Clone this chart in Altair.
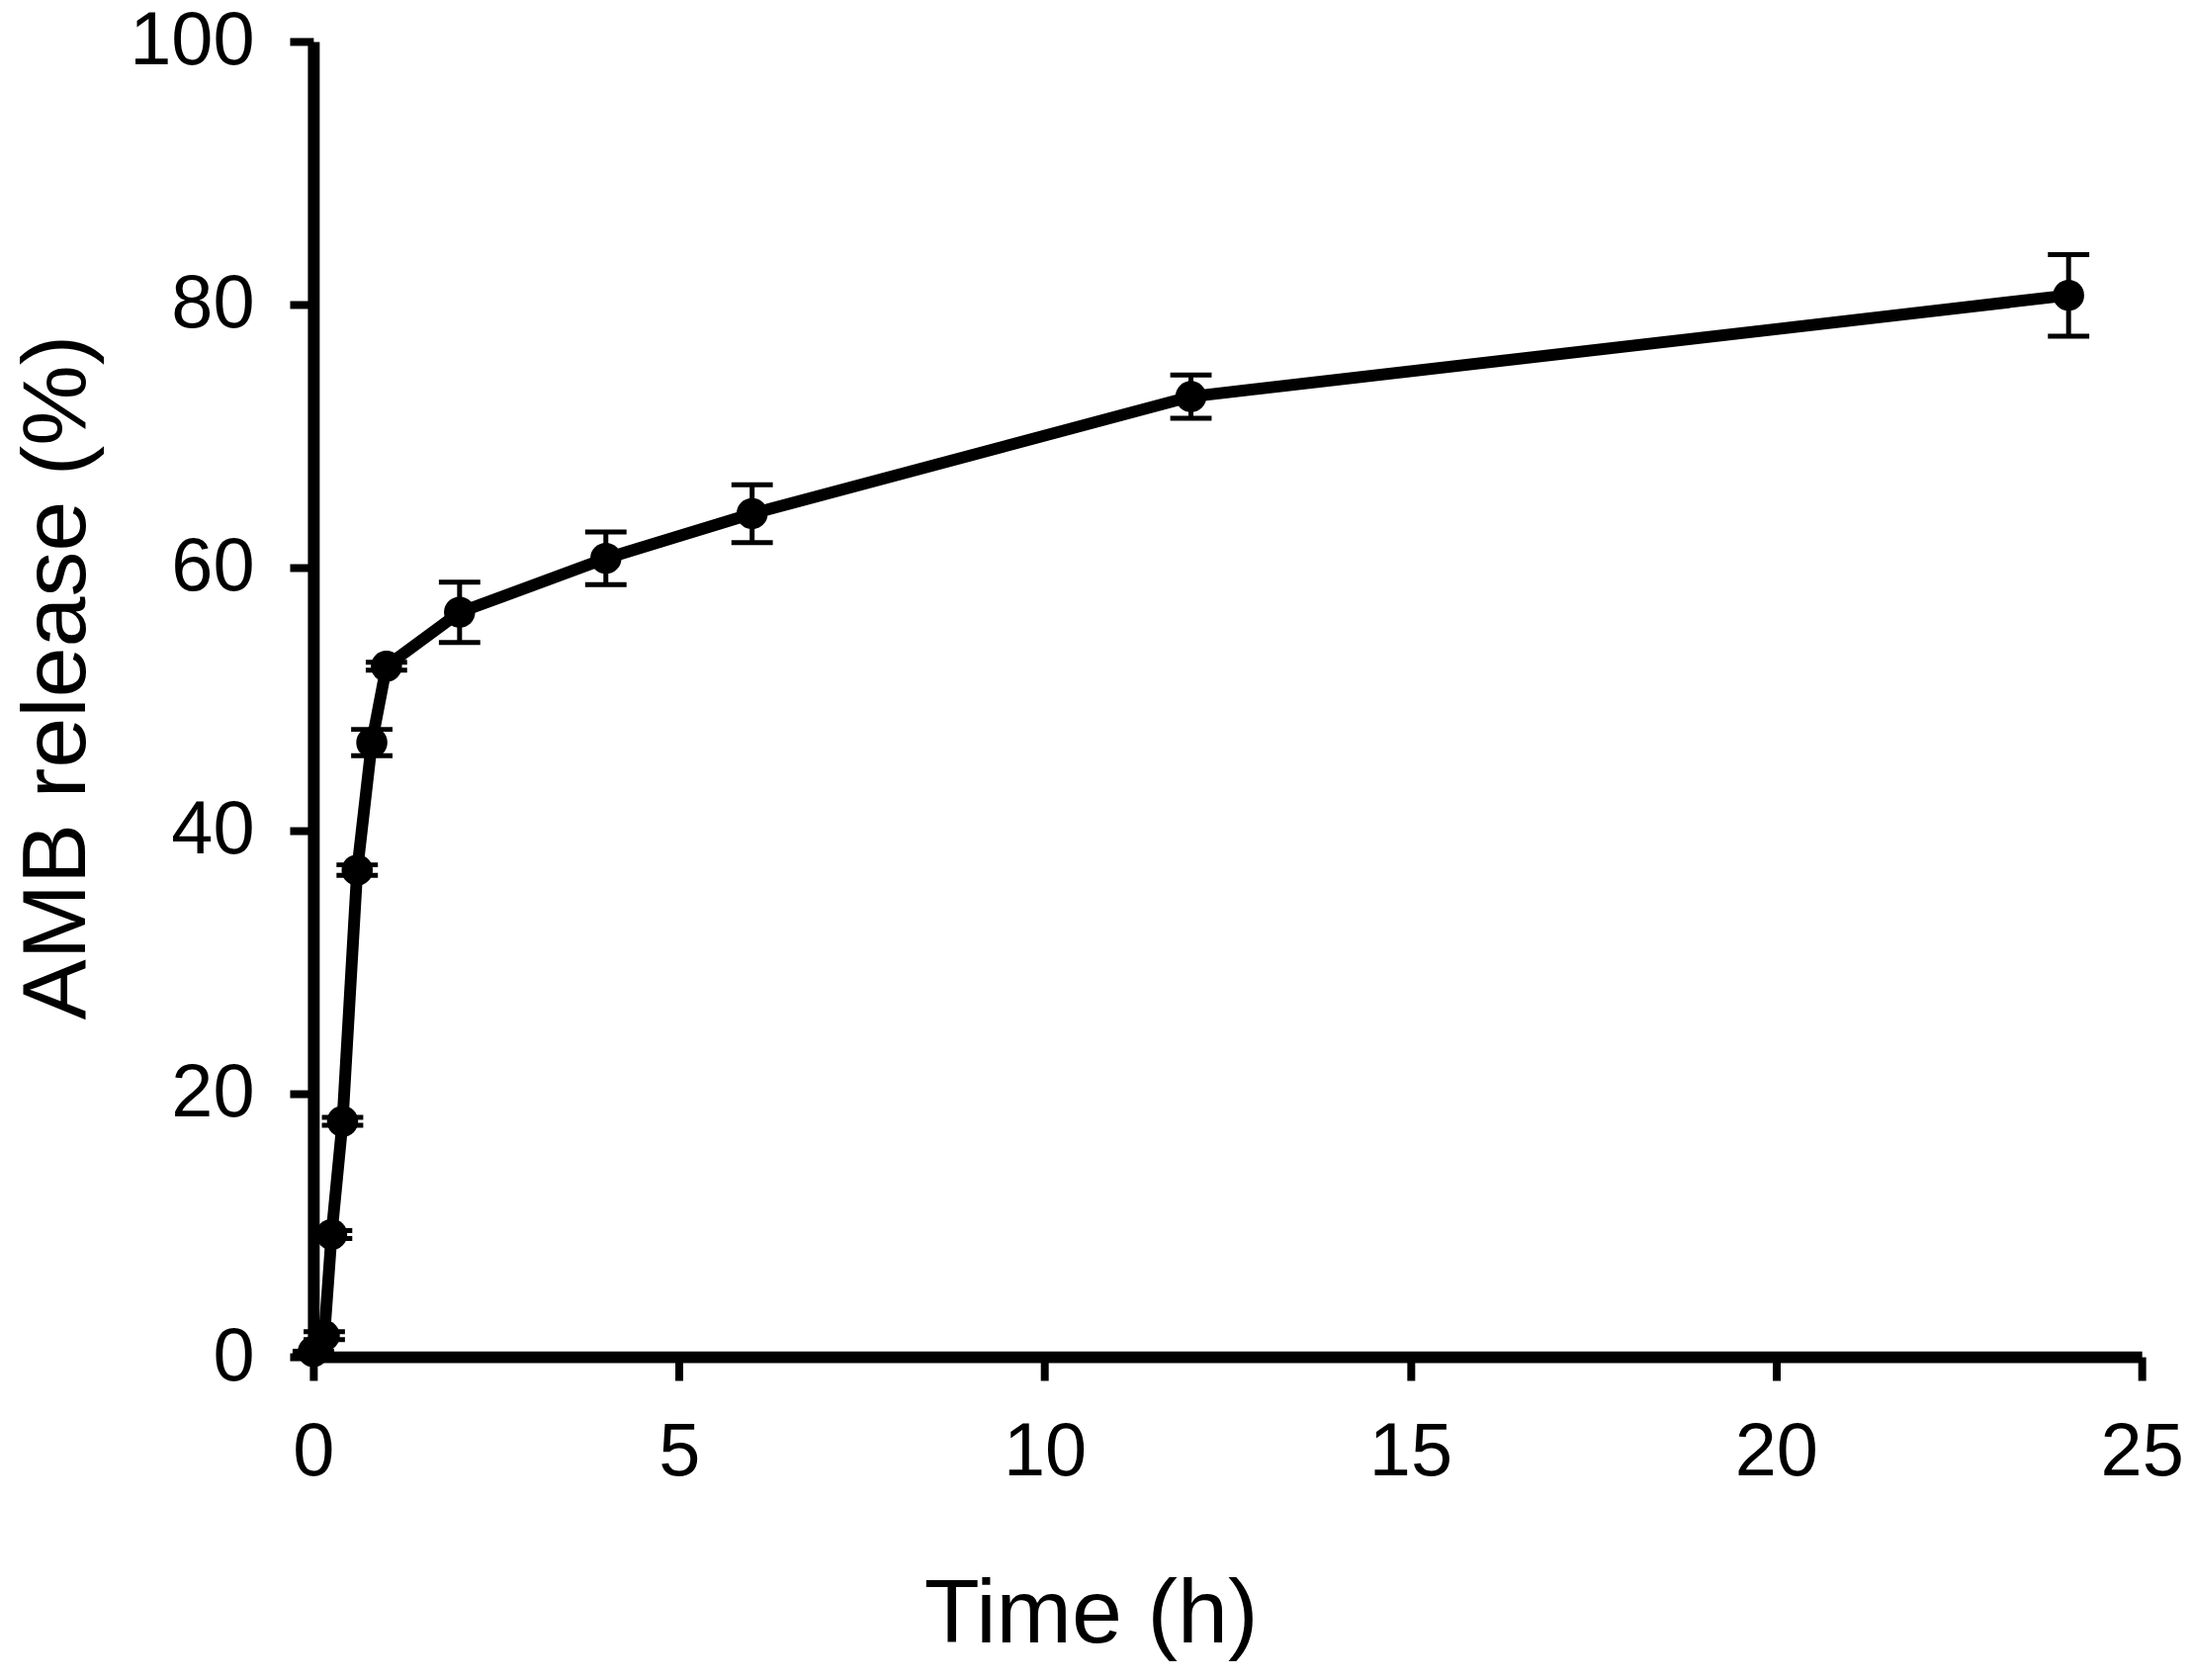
import altair as alt
import pandas as pd

time_h = [0, 0.15, 0.25, 0.4, 0.6, 0.8, 1, 2, 4, 6, 12, 24]
release = [0.4, 1.6, 9.3, 17.9, 37.0, 46.7, 52.5, 56.6, 60.7, 64.1, 73.0, 80.7]
sd = [0.0, 0.3, 0.3, 0.3, 0.4, 1.0, 0.3, 2.3, 2.0, 2.2, 1.65, 3.1]

x_ticks = [0, 5, 10, 15, 20, 25]
y_ticks = [0, 20, 40, 60, 80, 100]

df = pd.DataFrame({"t": time_h, "r": release, "sd": sd})
df["lo"] = df["r"] - df["sd"]
df["hi"] = df["r"] + df["sd"]

FONT = "Liberation Sans"

x_scale = alt.Scale(domain=[0, 25], nice=False, zero=True)
y_scale = alt.Scale(domain=[0, 100], nice=False, zero=True)

x_axis = alt.Axis(
    values=x_ticks, format="d", title="Time (h)", grid=False,
    domainColor="black", domainWidth=12, tickColor="black", tickWidth=8, tickSize=24,
    labelFont=FONT, labelFontSize=76, labelColor="black", labelPadding=36,
    labelBaseline="top", labelFlush=False,
    titleFont=FONT, titleFontSize=92, titleFontWeight="normal", titleColor="black",
    titleX=789, titleY=289, titleAlign="center", titleBaseline="alphabetic",
)
y_axis = alt.Axis(
    values=y_ticks, format="d", title="AMB release (%)", grid=False,
    domainColor="black", domainWidth=12, tickColor="black", tickWidth=8, tickSize=24,
    labelFont=FONT, labelFontSize=76, labelColor="black", labelPadding=36,
    labelBaseline="middle", labelFlush=False,
    titleFont=FONT, titleFontSize=92, titleFontWeight="normal", titleColor="black",
    titleX=-232, titleY=645, titleAngle=270, titleAlign="center", titleBaseline="alphabetic",
)

base = alt.Chart(df)

line = base.mark_line(color="black", strokeWidth=12).encode(
    x=alt.X("t:Q", scale=x_scale, axis=x_axis),
    y=alt.Y("r:Q", scale=y_scale, axis=y_axis),
)

stems = base.mark_rule(color="black", strokeWidth=5).encode(
    x="t:Q", y="lo:Q", y2="hi:Q"
)
caps_hi = base.mark_tick(color="black", size=42, thickness=5, orient="horizontal", opacity=1).encode(
    x="t:Q", y="hi:Q"
)
caps_lo = base.mark_tick(color="black", size=42, thickness=5, orient="horizontal", opacity=1).encode(
    x="t:Q", y="lo:Q"
)

points = base.mark_circle(color="black", size=1000, opacity=1).encode(
    x="t:Q", y="r:Q"
)

chart = alt.layer(line, stems, caps_hi, caps_lo, points).properties(
    width=1856,
    height=1335,
    autosize=alt.AutoSizeParams(type="none"),
    padding={"left": 310, "top": 31, "right": 43, "bottom": 320},
    background="white",
).configure_view(stroke=None)

chart.save("out.html", embed_options={"renderer": "svg", "actions": False})
